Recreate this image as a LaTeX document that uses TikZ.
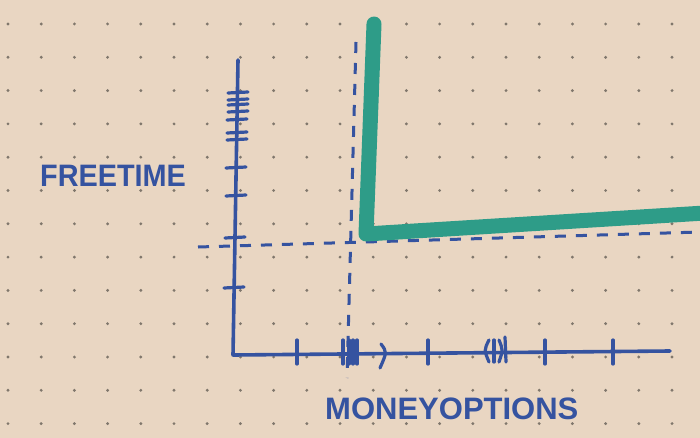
\documentclass[tikz,border=0pt]{standalone}
\usepackage{fontspec}
\setmainfont{Liberation Sans}
\definecolor{paper}{HTML}{E9D6C2}
\definecolor{dotc}{HTML}{80776C}
\definecolor{pen}{HTML}{3553A0}
\definecolor{marker}{HTML}{2E9C88}
\tikzset{
  axis/.style={pen, line width=3.6pt, line cap=round, line join=round},
  tick/.style={pen, line width=3.2pt, line cap=round},
  dashline/.style={pen, line width=3pt, dash pattern=on 11pt off 10pt},
  greenline/.style={marker, line width=15pt, line cap=round, line join=round},
  label/.style={pen, font=\bfseries\fontsize{31}{31}\selectfont, inner sep=0pt},
}
\begin{document}
\begin{tikzpicture}[x=1pt,y=-1pt]
\useasboundingbox (0,0) rectangle (700,438);
\fill[paper] (0,0) rectangle (700,438);
% dot grid
\foreach \i in {0,...,21}{
  \foreach \j in {0,...,12}{
    \fill[dotc] ({8+33.2*\i},{24+33.3*\j}) circle (1.6);
  }
}
% coordinates
\coordinate (ytop) at (238,60);
\coordinate (O) at (233,355);
\coordinate (xend) at (670,351);
\coordinate (hdl) at (198,247);
\coordinate (hdr) at (700,232);
\coordinate (vdt) at (356,42);
\coordinate (vdb) at (347,378);
\coordinate (gtop) at (374,24);
\coordinate (gcorner) at (366,234);
\coordinate (gright) at (705,213);
% dashed guide lines
\draw[dashline] (hdl) -- (hdr);
\draw[dashline] (vdt) -- (vdb);
% green L
\draw[greenline] (gtop) -- (gcorner) -- (gright);
% axes
\draw[axis] (ytop) -- (O) -- (xend);
% y ticks
\foreach \y/\x in {93/238,100/238,105/238,112/238,120/237,133/237,140/237,168/236,196/236,238/235,288/234}{
  \draw[tick] ({\x-10},\y) -- ({\x+10},{\y-1});
}
% x ticks
\foreach \x in {297,343,349,353,357,428,545,613}{
  \draw[tick] (\x,340) -- (\x,364);
}
\draw[tick] (381,344) .. controls (387,352) .. (380,368);
\draw[tick] (489,340) .. controls (484,350) .. (489,362);
\draw[tick] (494,340) -- (494,362);
\draw[tick] (499,340) .. controls (503,350) .. (499,362);
\draw[tick] (505,337) -- (506,362);
% labels
\node[label, anchor=west, xscale=0.93] (ft) at (40,176) {FREETIME};
\node[label, anchor=west] (mo) at (325,409) {MONEYOPTIONS};
\end{tikzpicture}
\end{document}
